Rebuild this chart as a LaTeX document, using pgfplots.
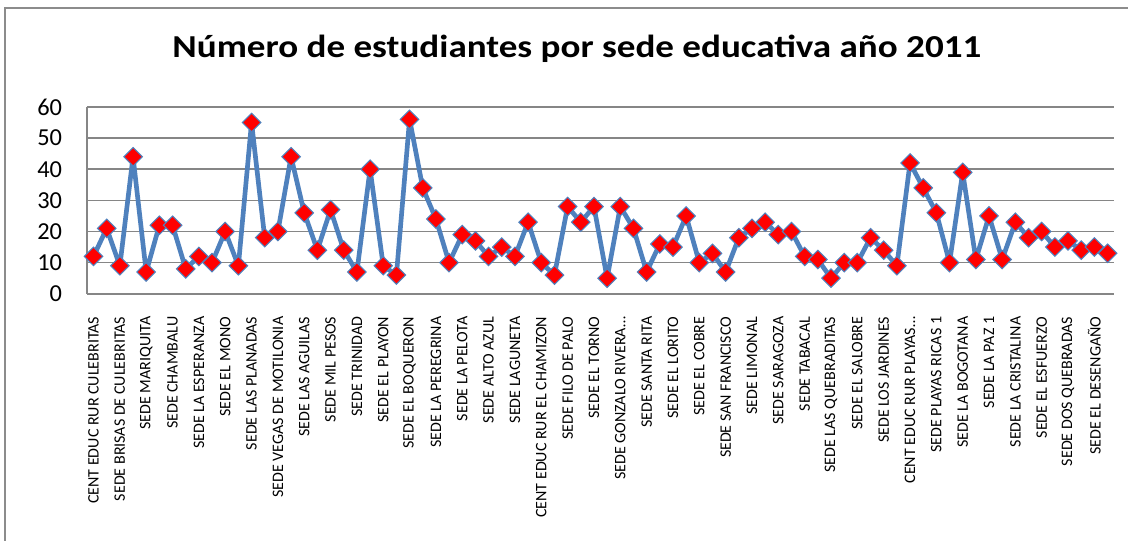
\documentclass[border=0pt]{standalone}
\usepackage{graphicx}
\usepackage{pgfplots}
\pgfplotsset{compat=1.18}
\usepackage{fontspec}
\setmainfont{Carlito}
\definecolor{lineblue}{HTML}{4F81BD}
\definecolor{gridgray}{HTML}{868686}
\definecolor{bordergray}{HTML}{8C8C8C}
\begin{document}
\begin{tikzpicture}
\path[fill=white] (0pt,0pt) rectangle (846.75pt,-405.75pt);
\draw[bordergray, line width=1.3pt] (3.75pt,-405.75pt) -- (3.75pt,-6pt) -- (846.75pt,-6pt);
\node[anchor=base, inner sep=0pt, font=\fontsize{24}{27}\selectfont\bfseries] at (433pt,-43.5pt) {\scalebox{1.16}[1]{Número de estudiantes por sede educativa año 2011}};
\begin{axis}[
  at={(65.25pt,-220.5pt)}, anchor=south west,
  scale only axis, width=771pt, height=140.25pt,
  xmin=0.5, xmax=78.5, ymin=0, ymax=60,
  ytick={0,10,...,60},
  xtick={1,3,...,77},
  xticklabels={CENT EDUC RUR CULEBRITAS, SEDE BRISAS DE CULEBRITAS, SEDE MARIQUITA, SEDE CHAMBALU, SEDE LA ESPERANZA, SEDE EL MONO, SEDE LAS PLANADAS, SEDE VEGAS DE MOTILONIA, SEDE LAS AGUILAS, SEDE MIL PESOS, SEDE TRINIDAD, SEDE EL PLAYON, SEDE EL BOQUERON, SEDE LA PEREGRINA, SEDE LA PELOTA, SEDE ALTO AZUL, SEDE LAGUNETA, CENT EDUC RUR EL CHAMIZON, SEDE FILO DE PALO, SEDE EL TORNO, SEDE GONZALO RIVERA…, SEDE SANTA RITA, SEDE EL LORITO, SEDE EL COBRE, SEDE SAN FRANCISCO, SEDE LIMONAL, SEDE SARAGOZA, SEDE TABACAL, SEDE LAS QUEBRADITAS, SEDE EL SALOBRE, SEDE LOS JARDINES, CENT EDUC RUR PLAYAS…, SEDE PLAYAS RICAS 1, SEDE LA BOGOTANA, SEDE LA PAZ 1, SEDE LA CRISTALINA, SEDE EL ESFUERZO, SEDE DOS QUEBRADAS, SEDE EL DESENGAÑO},
  xticklabel style={rotate=90, anchor=east, inner sep=0pt, xshift=-17pt, font=\fontsize{12}{14}\selectfont},
  yticklabel style={anchor=east, inner sep=0pt, xshift=-18.5pt, font=\fontsize{18.3}{20}\selectfont},
  /pgf/number format/assume math mode=true,
  major tick length=0pt,
  ymajorgrids, grid style={gridgray, line width=1.1pt},
  axis x line*=bottom, axis y line*=left,
  axis line style={gridgray, line width=1.1pt, -},
  clip=false,
]
\addplot[lineblue, line width=3.5pt, line join=round, mark=square*, mark size=4.9pt,
  mark options={rotate=45, fill=red, draw=lineblue, line width=0.8pt, line join=miter}]
  table[x=i, y=v] {
i v
1 12
2 21
3 9
4 44
5 7
6 22
7 22
8 8
9 12
10 10
11 20
12 9
13 55
14 18
15 20
16 44
17 26
18 14
19 27
20 14
21 7
22 40
23 9
24 6
25 56
26 34
27 24
28 10
29 19
30 17
31 12
32 15
33 12
34 23
35 10
36 6
37 28
38 23
39 28
40 5
41 28
42 21
43 7
44 16
45 15
46 25
47 10
48 13
49 7
50 18
51 21
52 23
53 19
54 20
55 12
56 11
57 5
58 10
59 10
60 18
61 14
62 9
63 42
64 34
65 26
66 10
67 39
68 11
69 25
70 11
71 23
72 18
73 20
74 15
75 17
76 14
77 15
78 13
};
\end{axis}
\end{tikzpicture}
\end{document}
